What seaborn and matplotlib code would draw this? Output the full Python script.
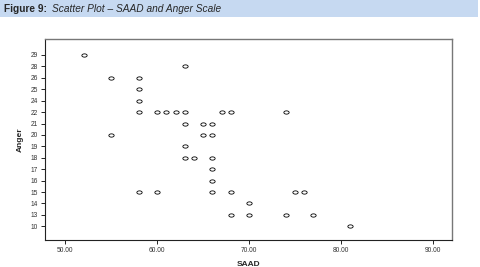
import numpy as np
import pandas as pd
import matplotlib.pyplot as plt
import seaborn as sns
from matplotlib.patches import Rectangle
from matplotlib.path import Path

# Anger scale levels shown on the axis, top to bottom
ANGER_LEVELS = ['29', '28', '26', '25', '24', '22', '21', '20', '19',
                '18', '17', '16', '15', '14', '13', '10']

SAAD = [52, 63,
        55, 58,
        58,
        58,
        58, 60, 61, 62, 63, 67, 68, 74,
        63, 65, 66,
        55, 65, 66,
        63,
        63, 64, 66,
        66,
        66,
        58, 60, 66, 68, 75, 76,
        70,
        68, 70, 74, 77,
        81]
ANGER = ['29', '28',
         '26', '26',
         '25',
         '24',
         '22', '22', '22', '22', '22', '22', '22', '22',
         '21', '21', '21',
         '20', '20', '20',
         '19',
         '18', '18', '18',
         '17',
         '16',
         '15', '15', '15', '15', '15', '15',
         '14',
         '13', '13', '13', '13',
         '10']

X_TICKS = [50, 60, 70, 80, 90]


def ellipse_marker():
    # flat open circle like the SPSS default
    t = np.linspace(0, 2 * np.pi, 40)
    verts = np.column_stack([np.cos(t), 0.62 * np.sin(t)])
    return Path(verts, closed=True)


def main():
    df = pd.DataFrame({'SAAD': SAAD, 'Anger': ANGER})

    sns.set_theme(style='white')
    plt.rcParams['font.family'] = ['Liberation Sans', 'DejaVu Sans']

    fig = plt.figure(figsize=(4.8, 2.67), dpi=100)
    ax = fig.add_axes([0.094, 0.101, 0.848, 0.753])

    sns.stripplot(data=df, x='SAAD', y='Anger', order=ANGER_LEVELS,
                  orient='h', jitter=False, native_scale=True,
                  color='white', edgecolor='black', linewidth=0.6,
                  size=3.8, marker=ellipse_marker(), ax=ax)

    ax.set_xlim(47.8, 92.1)
    ax.set_ylim(16.2, -1.4)
    ax.set_xticks(X_TICKS)
    ax.set_xticklabels([f'{v:.2f}' for v in X_TICKS])
    ax.tick_params(axis='both', labelsize=4.8, length=3, width=0.6,
                   color='black', pad=2, direction='out',
                   bottom=True, left=True, labelcolor='#333333')

    for side in ['left', 'bottom']:
        ax.spines[side].set_color('#222222')
        ax.spines[side].set_linewidth(0.8)
    for side in ['top', 'right']:
        ax.spines[side].set_color('#777777')
        ax.spines[side].set_linewidth(1.0)

    ax.set_xlabel('SAAD', fontsize=6, fontweight='bold', labelpad=5)
    ax.set_ylabel('Anger', fontsize=6, fontweight='bold', labelpad=5)
    ax.grid(False)

    # caption bar on top
    fig.patches.append(Rectangle((0, 1 - 17 / 267), 478 / 480, 17 / 267,
                                 transform=fig.transFigure,
                                 facecolor='#c6d9f1', edgecolor='none'))
    fig.text(4 / 480, 1 - 8.5 / 267, 'Figure 9:', fontsize=7.3,
             fontweight='bold', va='center', ha='left')
    fig.text(52 / 480, 1 - 8.5 / 267, 'Scatter Plot \u2013 SAAD and Anger Scale',
             fontsize=7.3, style='italic', va='center', ha='left')

    fig.savefig('out.png', dpi=100)


if __name__ == '__main__':
    main()
